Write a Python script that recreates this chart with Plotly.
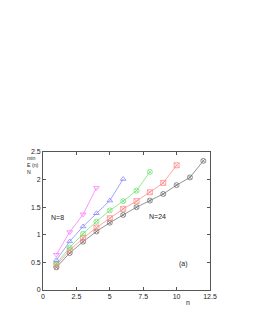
import plotly.graph_objects as go

n_m = [1, 2, 3, 4]
e_m = [0.64, 1.05, 1.37, 1.85]
n_b = [1, 2, 3, 4, 5, 6]
e_b = [0.54, 0.88, 1.15, 1.39, 1.62, 2.01]
n_g = [1, 2, 3, 4, 5, 6, 7, 8]
e_g = [0.48, 0.77, 1.02, 1.24, 1.44, 1.61, 1.80, 2.14]
n_r = [1, 2, 3, 4, 5, 6, 7, 8, 9, 10]
e_r = [0.45, 0.72, 0.94, 1.13, 1.30, 1.47, 1.61, 1.77, 1.94, 2.26]
n_k = [1, 2, 3, 4, 5, 6, 7, 8, 9, 10, 11, 12]
e_k = [0.41, 0.67, 0.875, 1.06, 1.22, 1.36, 1.50, 1.62, 1.74, 1.90, 2.04, 2.34]

series = [
    (n_k, e_k, "#666666", "circle-x-open"),
    (n_r, e_r, "#ff8080", "square-x-open"),
    (n_g, e_g, "#66e066", "circle-x-open"),
    (n_b, e_b, "#7a7aff", "triangle-up-open"),
    (n_m, e_m, "#ff66ff", "triangle-down-open"),
]

fig = go.Figure()
for xs, ys, col, sym in series:
    fig.add_trace(go.Scatter(
        x=xs, y=ys, mode="lines+markers",
        line=dict(color=col, width=0.7),
        marker=dict(symbol=sym, size=5, color=col, line=dict(color=col, width=0.7)),
        showlegend=False,
    ))

FONT = "Liberation Sans, Arial, sans-serif"
axis_common = dict(
    showline=True, linecolor="#555555", linewidth=0.7, mirror="ticks",
    ticks="inside", ticklen=3, tickcolor="#555555", tickwidth=0.7,
    showgrid=False, zeroline=False,
    tickfont=dict(family=FONT, size=7, color="#222222"),
)
fig.update_xaxes(range=[0, 12.5], tickvals=[0, 2.5, 5, 7.5, 10, 12.5],
                 ticktext=["0", "2.5", "5", "7.5", "10", "12.5"], **axis_common)
fig.update_yaxes(range=[0, 2.5], tickvals=[0, 0.5, 1, 1.5, 2, 2.5],
                 ticktext=["0", "0.5", "1", "1.5", "2", "2.5"], **axis_common)

# page has an 8px body margin; plot area target: x 42.7..210, y 151.7..289.7
PL, PR, PT, PB = 42.7, 210.0, 151.7, 289.7

def ann(text, px, py, size=7, xanchor="center", align="center"):
    fig.add_annotation(
        text=text, xref="paper", yref="paper",
        x=(px - PL) / (PR - PL), y=(PB - py) / (PB - PT),
        showarrow=False, xanchor=xanchor, yanchor="middle", align=align,
        font=dict(family=FONT, size=size, color="#222222"),
    )

ann("min<br>E (n)<br>N", 24.5, 164.7, 5.2, xanchor="left", align="left")
ann("N=8", 57, 217)
ann("N=24", 157, 216)
ann("(a)", 183, 264)
ann("n", 188, 302)

fig.update_layout(
    width=253, height=327,
    margin=dict(l=PL - 8, r=253 + 8 - PR, t=PT - 8, b=327 + 8 - PB, pad=0),
    plot_bgcolor="white", paper_bgcolor="white",
)
fig.write_html("out.html")
